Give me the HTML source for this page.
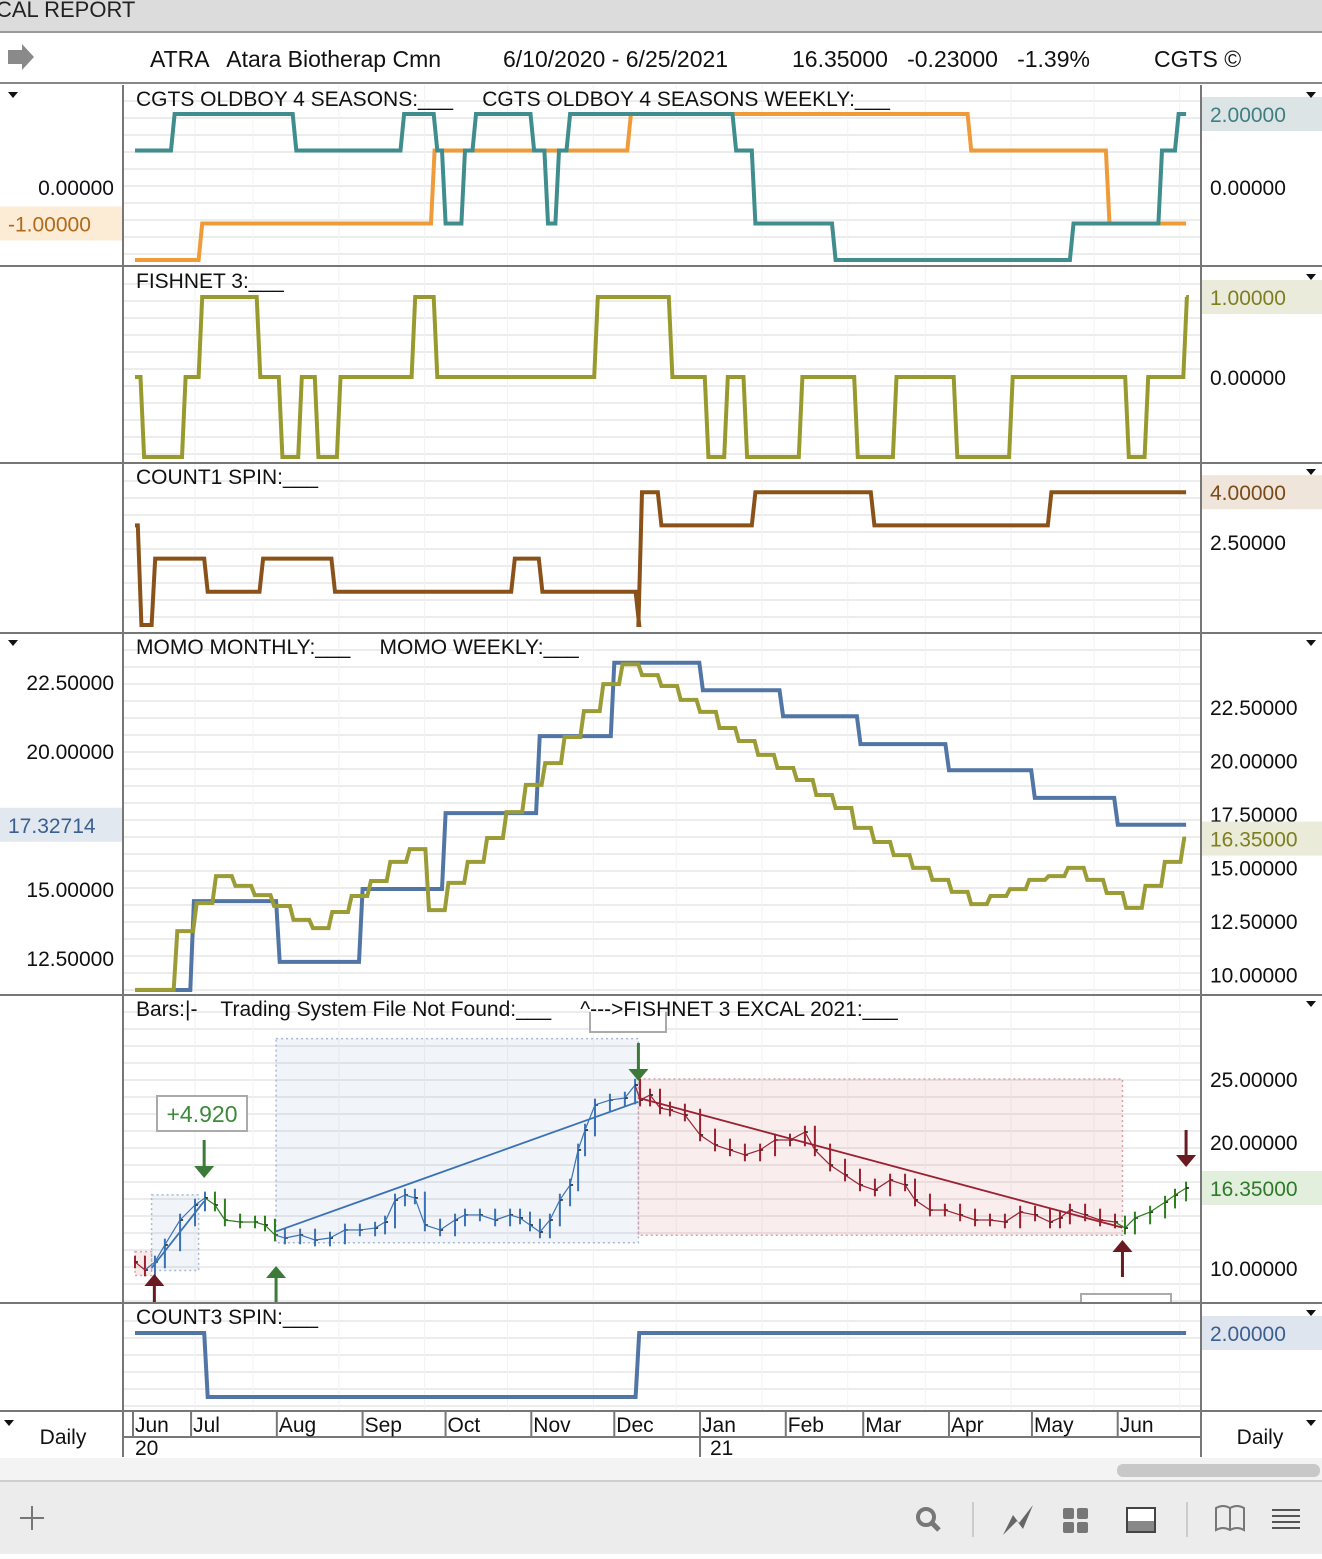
<!DOCTYPE html>
<html><head><meta charset="utf-8"><style>
body{margin:0;width:1322px;height:1554px;overflow:hidden;background:#fff;font-family:"Liberation Sans",sans-serif;}
svg text{font-family:"Liberation Sans",sans-serif;white-space:pre;}
</style></head><body>
<svg id="c" width="1322" height="1554" xmlns="http://www.w3.org/2000/svg">
<rect x="0" y="0" width="1322" height="32" fill="#dcdcdc"/>
<text x="-4" y="17" font-size="22" fill="#222">CAL REPORT</text>
<line x1="0" y1="32" x2="1322" y2="32" stroke="#9a9a9a" stroke-width="2"/>
<g>
<path d="M8 50 h14 v-6 l12 13 l-12 13 v-6 h-14z" fill="#8a8a8a"/>
<text x="150" y="67" font-size="23" fill="#111">ATRA   Atara Biotherap Cmn</text>
<text x="503" y="67" font-size="23" fill="#111">6/10/2020 - 6/25/2021</text>
<text x="792" y="67" font-size="23" fill="#111">16.35000   -0.23000   -1.39%</text>
<text x="1154" y="67" font-size="23" fill="#111">CGTS ©</text>
</g>
<line x1="0" y1="83" x2="1322" y2="83" stroke="#888" stroke-width="2"/>
<g id="grid"></g>
<g id="marks"></g>
<g id="frame"></g>
<rect x="0" y="1458" width="1322" height="22" fill="#f3f3f3"/>
<rect x="1117" y="1464" width="203" height="13" rx="6" fill="#c8c8c8"/>
<rect x="0" y="1481" width="1322" height="73" fill="#ececec"/>
<line x1="0" y1="1481" x2="1322" y2="1481" stroke="#cfcfcf" stroke-width="2"/>
<g><line x1="20" y1="1518" x2="44" y2="1518" stroke="#777" stroke-width="2"/><line x1="32" y1="1506" x2="32" y2="1530" stroke="#777" stroke-width="2"/></g>
<g><circle cx="926" cy="1517" r="8" fill="none" stroke="#777" stroke-width="4"/><line x1="932" y1="1523" x2="939" y2="1530" stroke="#777" stroke-width="5"/></g>
<line x1="973" y1="1502" x2="973" y2="1537" stroke="#ccc" stroke-width="2"/>
<path d="M1003 1535 l10 -20 l6 8 l14 -18 l-10 24 l-6 -8z" fill="#666"/>
<g fill="#777"><rect x="1063" y="1508" width="11" height="11" rx="2"/><rect x="1077" y="1508" width="11" height="11" rx="2"/><rect x="1063" y="1522" width="11" height="11" rx="2"/><rect x="1077" y="1522" width="11" height="11" rx="2"/></g>
<g><rect x="1127" y="1508" width="28" height="24" fill="#fff" stroke="#444" stroke-width="2"/><rect x="1128" y="1521" width="26" height="10" fill="#888"/></g>
<line x1="1187" y1="1502" x2="1187" y2="1537" stroke="#ccc" stroke-width="2"/>
<path d="M1216 1508 q7 -4 14 0 q7 -4 14 0 v22 q-7 -4 -14 0 q-7 -4 -14 0z M1230 1508 v22" fill="none" stroke="#777" stroke-width="2"/>
<g stroke="#555" stroke-width="2"><line x1="1272" y1="1510" x2="1300" y2="1510"/><line x1="1272" y1="1516" x2="1300" y2="1516"/><line x1="1272" y1="1522" x2="1300" y2="1522"/><line x1="1272" y1="1528" x2="1300" y2="1528"/></g>
</svg>
<script>
// ---- data ----
const tealDays=[0,13,57,96,108,111,118,122,143,148,152,156,216,223,252,338,370,376];
const tealVals=[1,2,1,2,1,-1,1,2,1,-1,1,2,1,-1,-2,-1,1,2];
const orangeDays=[0,23,107,178,301,351];
const orangeVals=[-2,-1,1,2,1,-1];
const fishDays=[0,2,17,23,44,52,59,65,73,100,108,166,193,206,213,220,240,260,274,296,316,358,365,379];
const fishVals=[0,-1,0,1,0,-1,0,-1,0,1,0,1,0,-1,0,-1,0,-1,0,-1,0,-1,0,1];
const count1Days=[0,1,6,25,45,71,136,146,181,182,189,223,266,330];
const count1Vals=[3,0,2,1,2,1,2,1,0,4,3,4,3,4];
const momoMonthlyDays=[0,20,51,81,111,145,172,204,233,261,293,324,354];
const momoMonthlyVals=[11.34,14.56,12.36,15.0,17.75,20.54,23.2,22.2,21.26,20.25,19.3,18.3,17.33];
const momoWeeklyVals=[9.28,9.28,12.03,13.34,14.60,14.14,13.71,13.20,12.55,12.17,12.92,13.67,14.37,15.26,15.86,13.01,14.28,15.26,16.38,17.59,18.86,19.88,21.10,22.31,23.57,24.50,23.99,23.48,22.83,22.27,21.52,20.91,20.26,19.65,19.09,18.39,17.78,16.85,16.19,15.58,14.98,14.42,13.86,13.29,13.67,13.99,14.42,14.60,14.98,14.42,13.81,13.11,14.14,15.26,16.35];
const priceDays=[0,3.6,7.2,10.8,16.3,21.7,25.3,28.9,32.5,38,43.4,47,50.6,54.2,59.7,65.1,70.5,75.9,81.3,86.8,90.4,94,97.6,101.2,104.8,110.3,115.7,119.3,124.7,130.2,135.6,139.2,142.8,146.4,150,153.6,157.3,160.2,162.7,166.3,171.7,177.1,180.8,182.6,186.2,189.8,193.4,198.8,204.3,209.7,215.1,220.5,226,231.4,236.8,242.2,245.8,251.3,256.7,262.1,267.5,273,278.4,282,287.4,292.8,298.3,303.7,309.1,314.5,320,325.4,330.8,334.4,338,343.5,348.9,354.3,357.9,361.5,367,372.4,376,380];
const priceClose=[10.48,9.84,10.48,11.83,13.81,15.0,15.56,15.0,13.81,13.65,13.65,13.41,12.62,12.38,12.62,12.22,12.38,13.02,13.02,13.17,13.65,15.4,15.79,15.56,13.41,13.02,13.81,14.21,14.21,13.81,14.21,13.97,13.41,12.86,13.81,15.4,16.59,19.37,20.95,22.94,23.33,23.49,24.52,23.33,23.73,22.7,22.54,22.14,20.56,19.76,19.37,18.97,19.37,20.16,20.16,20.79,19.37,18.17,17.38,16.59,16.19,16.98,16.59,15.4,14.6,14.6,14.21,13.81,13.81,13.65,14.44,14.21,13.65,13.97,14.6,14.21,13.81,13.65,13.17,13.97,14.44,15.23,15.79,16.35];
const count3Days=[0,25,181];
const count3Vals=[2,0,2];
const monthLabels=["Jun","Jul","Aug","Sep","Oct","Nov","Dec","Jan","Feb","Mar","Apr","May","Jun"];
const monthDays=[0,21,52,83,113,144,174,205,236,264,295,325,356];
const momoLeftTicks=[22.5,20,15,12.5];
const momoRightTicks=[22.5,20,17.5,15,12.5,10];
const priceTicks=[25,20,10];

// ---- axes ----
const X=d=>135+d*2.766;
const Y1=v=>187-v*36.5;
const Y2=v=>377-v*80;
const Y3=v=>625-v*33.2;
const YL=v=>958-(v-12.5)*27.6;
const YR=v=>921-(v-12.5)*21.4;
const YP=v=>1079-(v-25)*12.6;
const Y6=v=>1397-v*32;

const NS="http://www.w3.org/2000/svg";
const G=document.getElementById('marks'),GR=document.getElementById('grid'),FR=document.getElementById('frame');
function mk(tag,at,parent){const e=document.createElementNS(NS,tag);for(const k in at)e.setAttribute(k,at[k]);(parent||G).appendChild(e);return e;}
function stepPts(days,vals,yf,end){const p=[[X(days[0]),yf(vals[0])]];for(let i=1;i<days.length;i++){p.push([X(days[i]),yf(vals[i-1])]);p.push([X(days[i]+1.3),yf(vals[i])]);}p.push([X(end),yf(vals[vals.length-1])]);return p.map(q=>q[0].toFixed(1)+','+q[1].toFixed(1)).join(' ');}
function line(pts,color,name){const e=mk('polyline',{points:pts,fill:'none',stroke:color,'stroke-width':4,'stroke-linejoin':'miter'});

return e;}
function txt(x,y,s,size,fill,anchor,name,par){const e=mk('text',{x:x,y:y,'font-size':size,fill:fill,'text-anchor':anchor||'start'},par||FR);e.textContent=s;

return e;}

// grids
const panels=[[85,266],[268,462],[465,632],[634,994],[996,1302],[1305,1410]];
panels.forEach(p=>{for(let y=p[0]+16;y<p[1];y+=17){mk('line',{x1:124,y1:y,x2:1200,y2:y,stroke:'#ececec','stroke-width':2},GR);}});
monthDays.forEach(d=>{mk('line',{x1:X(d)+60,y1:85,x2:X(d)+60,y2:1410,stroke:'#f2f2f2','stroke-width':1},GR);});

// panel 1
line(stepPts(orangeDays,orangeVals,Y1,380),'#f09b3a','orange-seasons-weekly-line');
line(stepPts(tealDays,tealVals,Y1,380),'#3f8d8d','teal-seasons-line');
// panel 2
line(stepPts(fishDays,fishVals,Y2,380),'#999a2e','fishnet-line');
// panel 3
line(stepPts(count1Days,count1Vals,Y3,380),'#8a5219','count1-spin-line');
// panel 4
line(stepPts(momoMonthlyDays,momoMonthlyVals,YL,380),'#5175a5','momo-monthly-line');
const wd=momoWeeklyVals.map((v,i)=>Math.min(i*7,378));
line(stepPts(wd,momoWeeklyVals,YR,380),'#9b9c35','momo-weekly-line');
// panel 6
line(stepPts(count3Days,count3Vals,Y6,380),'#5175a5','count3-spin-line');

// panel 5 price
function boxAt(d0,d1,v0,v1,fill,stroke,name){const e=mk('rect',{x:X(d0),y:YP(v1),width:X(d1)-X(d0),height:YP(v0)-YP(v1),fill:fill,stroke:stroke,'stroke-width':1.5,'stroke-dasharray':'2 3'});

}
boxAt(0,6,9.4,11.3,'rgba(200,80,90,0.12)','#d9a0a8','short-box-1');
boxAt(6,23,9.8,15.8,'rgba(80,110,180,0.08)','#a8b8d4','long-box-1');
boxAt(51,182,12.0,28.2,'rgba(80,110,180,0.08)','#a8b8d4','long-box-2');
boxAt(182,357,12.6,25.0,'rgba(200,80,90,0.1)','#d9a0a8','short-box-2');
function colorFor(d){if(d<6)return '#9b2030';if(d<26)return '#3a73b5';if(d<51)return '#2e7d1e';if(d<182)return '#3a73b5';if(d<357)return '#9b2030';return '#2e7d1e';}
priceDays.forEach((d,i)=>{const c=priceClose[i];const pc=i?priceClose[i-1]:c;const hi=Math.max(c,pc)+0.5,lo=Math.min(c,pc)-0.5;
const b=mk('line',{x1:X(d),y1:YP(hi),x2:X(d),y2:YP(lo),stroke:colorFor(d),'stroke-width':2});


mk('line',{x1:X(d),y1:YP(c),x2:X(d)+3,y2:YP(c),stroke:'#111','stroke-width':1.5});
if(i){const s=mk('line',{x1:X(priceDays[i-1]),y1:YP(pc),x2:X(d),y2:YP(c),stroke:colorFor(d),'stroke-width':1.2});

}});
function trend(d0,v0,d1,v1,col,name){const e=mk('line',{x1:X(d0),y1:YP(v0),x2:X(d1),y2:YP(v1),stroke:col,'stroke-width':1.8});

}
trend(6,10.0,25,15.3,'#3a73b5','trend-up-1');
trend(51,12.9,182,23.2,'#3a73b5','trend-up-2');
trend(182,23.5,357,13.2,'#9b2030','trend-down');
function arrow(d,y0,y1,col,name){const up=y1<y0;const x=X(d);const e=mk('g',{});


mk('line',{x1:x,y1:y0,x2:x,y2:up?y1+10:y1-10,stroke:col,'stroke-width':3},e);
mk('path',{d:up?`M${x-10} ${y1+12} L${x} ${y1} L${x+10} ${y1+12}Z`:`M${x-10} ${y1-12} L${x} ${y1} L${x+10} ${y1-12}Z`,fill:col},e);}
arrow(7,1302,1274,'#6b1a22','buy-arrow-1');
arrow(25,1140,1178,'#3c7a3a','sell-arrow-1');
arrow(51,1302,1266,'#3c7a3a','buy-arrow-2');
arrow(182,1043,1081,'#3c7a3a','sell-arrow-2');
arrow(357,1277,1240,'#6b1a22','buy-arrow-3');
arrow(380,1130,1167,'#6b1a22','sell-arrow-3');
const pb=mk('rect',{x:157,y:1096,width:90,height:35,fill:'#fff',stroke:'#aaa','stroke-width':2});


txt(202,1122,'+4.920',23,'#3c8a3a','middle','profit-label',G);
mk('path',{d:'M590 1012 v20 h76 v-20',fill:'#fff',stroke:'#aaa','stroke-width':2});
mk('path',{d:'M1081 1302 v-8 h90 v8',fill:'#fff',stroke:'#aaa','stroke-width':2});

// frame: separators
[[266],[463],[633],[995],[1303],[1411]].forEach(a=>mk('line',{x1:0,y1:a[0],x2:1322,y2:a[0],stroke:'#777','stroke-width':2},FR));
mk('line',{x1:123,y1:85,x2:123,y2:1457,stroke:'#777','stroke-width':2},FR);
mk('line',{x1:1201,y1:85,x2:1201,y2:1457,stroke:'#777','stroke-width':2},FR);
mk('line',{x1:123,y1:1437,x2:1201,y2:1437,stroke:'#777','stroke-width':2},FR);

// titles
txt(136,106,'CGTS OLDBOY 4 SEASONS:___     CGTS OLDBOY 4 SEASONS WEEKLY:___',21,'#111','start','panel1-title');
txt(136,288,'FISHNET 3:___',21,'#111','start','panel2-title');
txt(136,484,'COUNT1 SPIN:___',21,'#111','start','panel3-title');
txt(136,654,'MOMO MONTHLY:___     MOMO WEEKLY:___',21,'#111','start','panel4-title');
txt(136,1016,'Bars:|-    Trading System File Not Found:___     ^--->FISHNET 3 EXCAL 2021:___',21,'#111','start','panel5-title');
txt(136,1324,'COUNT3 SPIN:___',21,'#111','start','panel6-title');

// axis labels
function badge(x,y,w,s,bg,fg,name){const r=mk('rect',{x:x,y:y-17,width:w,height:34,fill:bg},FR);


txt(x+8,y+8,s,21,fg,'start',name);}
txt(114,Y1(0)+8,'0.00000',21,'#111','end','p1-left-tick');
badge(0,Y1(-1),122,'-1.00000','#fcebd5','#b06a1a','p1-left-badge');
txt(1210,Y1(0)+8,'0.00000',21,'#111','start','p1-right-tick');
badge(1202,Y1(2),120,'2.00000','#dde4e6','#3f7f80','p1-right-badge');
txt(1210,Y2(0)+8,'0.00000',21,'#111','start','p2-right-tick');
badge(1202,Y2(1),120,'1.00000','#ebebdb','#7e7e20','p2-right-badge');
txt(1210,Y3(2.5)+8,'2.50000',21,'#111','start','p3-right-tick');
badge(1202,Y3(4),120,'4.00000','#efe5da','#7a4a18','p3-right-badge');
momoLeftTicks.forEach(v=>txt(114,YL(v)+8,v.toFixed(5),21,'#111','end','momo-left-tick'));
badge(0,YL(17.32714),122,'17.32714','#e2e8f0','#3b5f8f','momo-left-badge');
momoRightTicks.forEach(v=>txt(1210,YR(v)+8,v.toFixed(5),21,'#111','start','momo-right-tick'));
badge(1202,YR(16.35),120,'16.35000','#ebebd9','#7e7e20','momo-right-badge');
priceTicks.forEach(v=>txt(1210,YP(v)+8,v.toFixed(5),21,'#111','start','price-right-tick'));
badge(1202,YP(16.35),120,'16.35000','#e3efdd','#2e7a2a','price-right-badge');
badge(1202,Y6(2),120,'2.00000','#dfe5ee','#3b5f8f','p6-right-badge');
[95,277,472,643,1004,1313].forEach(y=>mk('path',{d:`M1306 ${y-3} h10 l-5 6z`,fill:'#111'},FR));
[95,643].forEach(y=>mk('path',{d:`M8 ${y-3} h10 l-5 6z`,fill:'#111'},FR));

// x axis
monthLabels.forEach((m,i)=>{const x=X(monthDays[i]);mk('line',{x1:x-2,y1:1412,x2:x-2,y2:1437,stroke:'#777','stroke-width':2},FR);txt(x,1432,m,21,'#111','start','month-label');});
txt(135,1455,'20',21,'#111','start','year-label-2020');
txt(710,1455,'21',21,'#111','start','year-label-2021');
mk('line',{x1:X(205)-2,y1:1437,x2:X(205)-2,y2:1457,stroke:'#777','stroke-width':2},FR);
txt(63,1444,'Daily',21,'#111','middle','left-period-label');
txt(1260,1444,'Daily',21,'#111','middle','right-period-label');
mk('path',{d:'M4 1420 h10 l-5 6z',fill:'#111'},FR);
mk('path',{d:'M1306 1420 h10 l-5 6z',fill:'#111'},FR);
</script>
</body></html>
